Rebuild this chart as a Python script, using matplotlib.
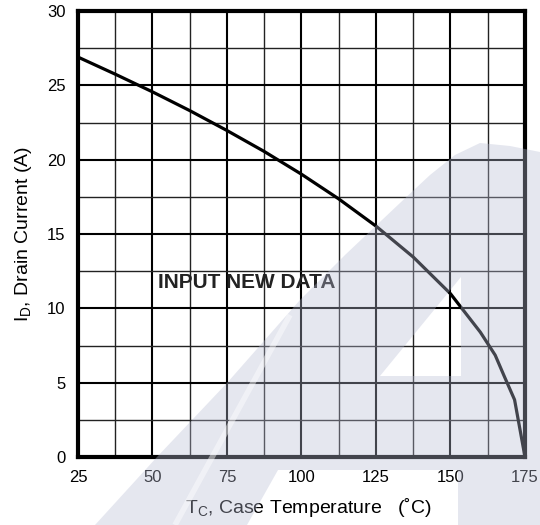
import matplotlib
matplotlib.use("Agg")
import matplotlib.pyplot as plt
import matplotlib.transforms as mtransforms
from matplotlib.path import Path
from matplotlib.patches import PathPatch
from matplotlib.lines import Line2D
import numpy as np

plt.rcParams['font.family'] = ['Liberation Sans', 'DejaVu Sans']
plt.rcParams['mathtext.default'] = 'regular'

# drain current derating curve
temp_c = [25, 37.5, 50, 62.5, 75, 87.5, 100, 112.5, 125, 137.5, 150, 160, 165, 168, 171.5, 175]
drain_a = [26.9, 25.75, 24.56, 23.3, 21.96, 20.55, 19.02, 17.36, 15.53, 13.45, 10.98, 8.4, 6.85, 5.45, 3.85, 0]

x_ticks = [25, 50, 75, 100, 125, 150, 175]
y_ticks = [0, 5, 10, 15, 20, 25, 30]

fig = plt.figure(figsize=(5.4, 5.25), dpi=100)
ax = fig.add_axes([78/540, 1-457/525, 447/540, 446/525])

ax.set_xlim(25, 175)
ax.set_ylim(0, 30)
ax.set_xticks(x_ticks)
ax.set_yticks(y_ticks)
ax.set_xticks(np.arange(37.5, 175, 25), minor=True)
ax.set_yticks(np.arange(2.5, 30, 5), minor=True)
ax.grid(which='major', color='black', lw=1.5)
ax.grid(which='minor', color='#222222', lw=1.0)
ax.tick_params(which='both', length=0, labelsize=12, pad=9)
for s in ax.spines.values():
    s.set_linewidth(3)

ax.plot(temp_c, drain_a, color='black', lw=2.3, zorder=3)

ax.text(51.8, 11.77, 'INPUT NEW DATA', fontsize=15, fontweight='bold',
        ha='left', va='center', color='#222222')

ax.set_xlabel('T$_C$, Case Temperature   (˚C)', fontsize=14)
ax.set_ylabel('I$_D$, Drain Current (A)', fontsize=14)
ax.xaxis.set_label_coords(0.515, -0.088)
ax.yaxis.set_label_coords(-0.098, 0.5)

# faint watermark laid over everything (pixel coords of the image)
px = mtransforms.Affine2D().scale(1/540, -1/525).translate(0, 1) + fig.transFigure
outer = [(95, 525), (157, 457), (227, 383), (300, 300), (345, 255), (400, 203),
         (430, 175), (455, 155), (480, 143), (510, 146), (540, 152),
         (540, 525), (458, 525), (458, 470), (278, 470), (247, 525), (95, 525)]
hole = [(380, 376), (461, 376), (461, 277), (380, 376)]
verts = outer + hole
codes = ([Path.MOVETO] + [Path.LINETO] * (len(outer) - 2) + [Path.CLOSEPOLY] +
         [Path.MOVETO] + [Path.LINETO] * (len(hole) - 2) + [Path.CLOSEPOLY])
wm = PathPatch(Path(verts, codes), transform=px, facecolor='#b8bdd4',
               edgecolor='none', alpha=0.36, zorder=10)
fig.add_artist(wm)
fig.add_artist(Line2D([175, 290], [525, 315], transform=px, color='white',
                      lw=4, alpha=0.45, zorder=11, solid_capstyle='butt'))

fig.savefig('out.png', dpi=100)
